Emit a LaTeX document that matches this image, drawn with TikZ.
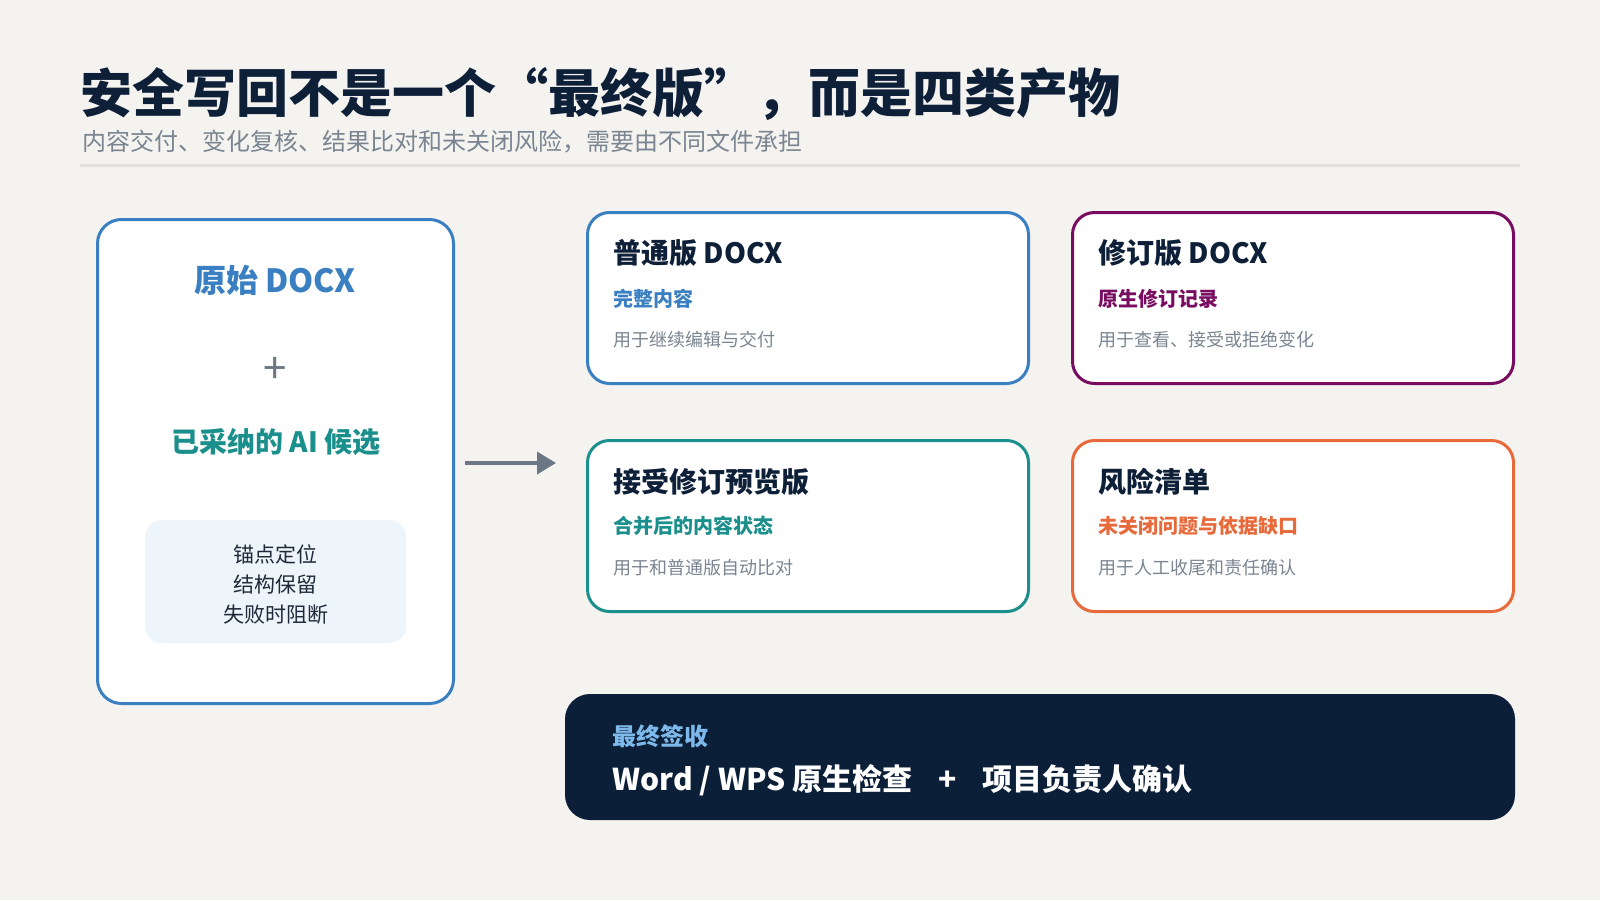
\documentclass[tikz,border=0pt]{standalone}
\usepackage{fontspec}
\setmainfont{Noto Sans CJK SC}
\usetikzlibrary{arrows.meta,calc}
\definecolor{bg}{HTML}{F4F3F0}
\definecolor{navy}{HTML}{0E1F38}
\definecolor{graytxt}{HTML}{7A8591}
\definecolor{rulec}{HTML}{E0DFDB}
\definecolor{cblue}{HTML}{3A7FC1}
\definecolor{cpurple}{HTML}{780C60}
\definecolor{cteal}{HTML}{1B8F8C}
\definecolor{corange}{HTML}{E8693A}
\definecolor{innerfill}{HTML}{EDF4FA}
\definecolor{arrowc}{HTML}{6B7785}
\definecolor{darkbox}{HTML}{0C1F38}
\definecolor{lblue}{HTML}{7DB9EA}
\definecolor{innertxt}{HTML}{1F2A3A}
\tikzset{
  card/.style={draw=#1, line width=1.5pt, fill=white, rounded corners=11pt,
    minimum width=220.5pt, minimum height=85.5pt, inner sep=0},
  txtw/.style={anchor=west, inner sep=0},
  cardtitle/.style={txtw, font=\fontsize{14}{16}\selectfont\bfseries, text=navy},
  cardsub/.style={txtw, font=\fontsize{10}{12}\selectfont\bfseries, text=#1},
  carddesc/.style={txtw, font=\fontsize{9}{11}\selectfont, text=graytxt},
  flowarrow/.style={draw=arrowc, line width=2pt, -{Triangle[length=9.5pt,width=11pt]}},
}
\begin{document}
\begin{tikzpicture}[x=0.5pt,y=-0.5pt]
\fill[bg] (0,0) rectangle (1600,900);
\useasboundingbox (0,0) rectangle (1600,900);

% header
\node[txtw, font=\fontsize{26}{30}\selectfont\bfseries, text=navy] (title) at (80,94)
  {安全写回不是一个“最终版”，而是四类产物};
\node[txtw, font=\fontsize{12}{14}\selectfont, text=graytxt] (subtitle) at (82,142)
  {内容交付、变化复核、结果比对和未关闭风险，需要由不同文件承担};
\coordinate (ruleL) at (80,165);
\coordinate (ruleR) at (1520,165);
\draw[rulec, line width=1.5pt] (ruleL) -- (ruleR);

% left source box
\node[draw=cblue, line width=1.5pt, fill=white, rounded corners=12pt,
  minimum width=178pt, minimum height=242pt] (src) at (275.5,461.5) {};
\node[font=\fontsize{16}{18}\selectfont\bfseries, text=cblue, inner sep=0] (srct) at (275,280) {原始 DOCX};
\node[font=\fontsize{21}{24}\selectfont, text=arrowc, inner sep=0] (plus) at (275,370) {+};
\node[font=\fontsize{14}{16}\selectfont\bfseries, text=cteal, inner sep=0] (ai) at (276,442) {已采纳的 AI 候选};
\node[fill=innerfill, rounded corners=8.5pt, minimum width=130.5pt, minimum height=61.5pt, inner sep=0] (inner) at (275.5,581.5) {};
\node[font=\fontsize{10.5}{15}\selectfont, text=innertxt, align=center, inner sep=0] (innert) at (275.5,584)
  {锚点定位\\结构保留\\失败时阻断};

% cards
\node[card=cblue] (c1) at (808,298) {};
\node[card=cpurple] (c2) at (1293,298) {};
\node[card=cteal] (c3) at (808,526) {};
\node[card=corange] (c4) at (1293,526) {};

\node[cardtitle] (c1t) at (613,253) {普通版 DOCX};
\node[cardsub=cblue] (c1s) at (613,299) {完整内容};
\node[carddesc] (c1d) at (613,340) {用于继续编辑与交付};

\node[cardtitle] (c2t) at (1098,253) {修订版 DOCX};
\node[cardsub=cpurple] (c2s) at (1098,299) {原生修订记录};
\node[carddesc] (c2d) at (1098,340) {用于查看、接受或拒绝变化};

\node[cardtitle] (c3t) at (613,482) {接受修订预览版};
\node[cardsub=cteal] (c3s) at (613,526) {合并后的内容状态};
\node[carddesc] (c3d) at (613,568) {用于和普通版自动比对};

\node[cardtitle] (c4t) at (1098,482) {风险清单};
\node[cardsub=corange] (c4s) at (1098,526) {未关闭问题与依据缺口};
\node[carddesc] (c4d) at (1098,568) {用于人工收尾和责任确认};

% arrow
\coordinate (aS) at ($(src.east)+(10,1.5)$);
\coordinate (aE) at ($(c1.west |- src.east)+(-30,1.5)$);
\draw[flowarrow] (aS) -- (aE);

% bottom box
\node[fill=darkbox, rounded corners=12.5pt, minimum width=475pt, minimum height=63pt, inner sep=0] (sign) at (1040,757) {};
\node[txtw, font=\fontsize{12}{14}\selectfont\bfseries, text=lblue] (signl) at (612,736) {最终签收};
\node[txtw, font=\fontsize{15}{17}\selectfont\bfseries, text=white] (signt) at (612,780)
  {Word / WPS 原生检查\hspace{13pt}+\hspace{13pt}项目负责人确认};
\end{tikzpicture}
\end{document}
